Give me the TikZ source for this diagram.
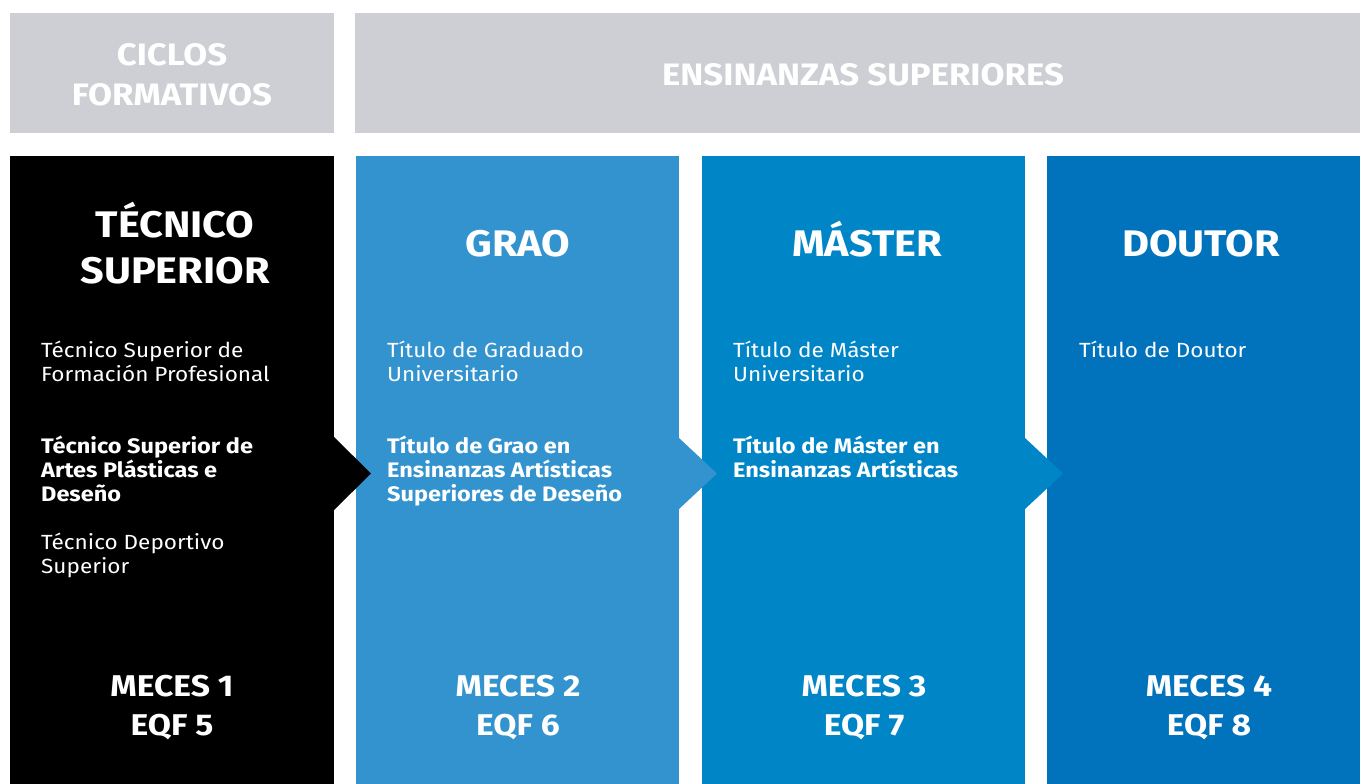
\documentclass[tikz,border=0pt]{standalone}
\usepackage{fontspec}
\setmainfont{Fira Sans}[FakeStretch=1.1, BoldFeatures={FakeStretch=1.12}]
\usetikzlibrary{calc}
\definecolor{headgray}{HTML}{CECFD4}
\definecolor{colA}{HTML}{000000}
\definecolor{colB}{HTML}{3393CF}
\definecolor{colC}{HTML}{0085C7}
\definecolor{colD}{HTML}{0073BC}
\tikzset{
  box/.style={anchor=north west, inner sep=0pt, outer sep=0pt},
  headtxt/.style={text=white, font=\fontsize{31}{39}\selectfont\bfseries, anchor=base, inner sep=0pt},
  titletxt/.style={text=white, font=\fontsize{37}{46}\selectfont\bfseries, anchor=base, inner sep=0pt},
  bodytxt/.style={text=white, font=\fontsize{20.5}{24}\selectfont, anchor=base west, inner sep=0pt},
  boldtxt/.style={text=white, font=\fontsize{21}{24}\selectfont\bfseries, anchor=base west, inner sep=0pt},
  levtxt/.style={text=white, font=\fontsize{30}{39}\selectfont\bfseries, anchor=base, inner sep=0pt},
}
\begin{document}
\begin{tikzpicture}[x=1pt,y=-1pt]
\useasboundingbox (0,0) rectangle (1360,784);
\fill[white] (0,0) rectangle (1360,784);
% header boxes
\node[box, fill=headgray, minimum width=324pt, minimum height=120pt] (h1) at (10,13) {};
\node[box, fill=headgray, minimum width=1005pt, minimum height=120pt] (h2) at (355,13) {};
% columns
\node[box, fill=colA, minimum width=324pt, minimum height=628pt] (c1) at (10,156) {};
\node[box, fill=colB, minimum width=323pt, minimum height=628pt] (c2) at (356,156) {};
\node[box, fill=colC, minimum width=323pt, minimum height=628pt] (c3) at (702,156) {};
\node[box, fill=colD, minimum width=313pt, minimum height=628pt] (c4) at (1047,156) {};
% arrows
\fill[colA] ($(c1.north east)+(0,281)$) -- ($(c1.north east)+(37,317.5)$) -- ($(c1.north east)+(0,354)$) -- cycle;
\fill[colB] ($(c2.north east)+(0,282)$) -- ($(c2.north east)+(38,317.5)$) -- ($(c2.north east)+(0,353)$) -- cycle;
\fill[colC] ($(c3.north east)+(0,282)$) -- ($(c3.north east)+(38,317.5)$) -- ($(c3.north east)+(0,353)$) -- cycle;
% header texts
\node[headtxt] (t1a) at (172,66) {CICLOS};
\node[headtxt] (t1b) at (172,105) {FORMATIVOS};
\node[headtxt] (t2) at (863,85) {ENSINANZAS SUPERIORES};
% column titles
\node[titletxt] (k1a) at (175,237) {TÉCNICO};
\node[titletxt] (k1b) at (175,283) {SUPERIOR};
\node[titletxt] (k2) at (518,256) {GRAO};
\node[titletxt] (k3) at (867,256) {MÁSTER};
\node[titletxt] (k4) at (1201,256) {DOUTOR};
% column 1 body
\node[bodytxt] (a1) at (41,357) {Técnico Superior de};
\node[bodytxt] (a2) at (41,381) {Formación Profesional};
\node[boldtxt] (a3) at (41,453) {Técnico Superior de};
\node[boldtxt] (a4) at (41,477) {Artes Plásticas e};
\node[boldtxt] (a5) at (41,501) {Deseño};
\node[bodytxt] (a6) at (41,549) {Técnico Deportivo};
\node[bodytxt] (a7) at (41,573) {Superior};
% column 2 body
\node[bodytxt] (b1) at (387,357) {Título de Graduado};
\node[bodytxt] (b2) at (387,381) {Universitario};
\node[boldtxt] (b3) at (387,453) {Título de Grao en};
\node[boldtxt] (b4) at (387,477) {Ensinanzas Artísticas};
\node[boldtxt] (b5) at (387,501) {Superiores de Deseño};
% column 3 body
\node[bodytxt] (d1) at (733,357) {Título de Máster};
\node[bodytxt] (d2) at (733,381) {Universitario};
\node[boldtxt] (d3) at (733,453) {Título de Máster en};
\node[boldtxt] (d4) at (733,477) {Ensinanzas Artísticas};
% column 4 body
\node[bodytxt] (e1) at (1079,357) {Título de Doutor};
% levels
\node[levtxt] (m1) at (172,696) {MECES 1};
\node[levtxt] (q1) at (172,735) {EQF 5};
\node[levtxt] (m2) at (518,696) {MECES 2};
\node[levtxt] (q2) at (518,735) {EQF 6};
\node[levtxt] (m3) at (864,696) {MECES 3};
\node[levtxt] (q3) at (864,735) {EQF 7};
\node[levtxt] (m4) at (1209,696) {MECES 4};
\node[levtxt] (q4) at (1209,735) {EQF 8};
\end{tikzpicture}
\end{document}
